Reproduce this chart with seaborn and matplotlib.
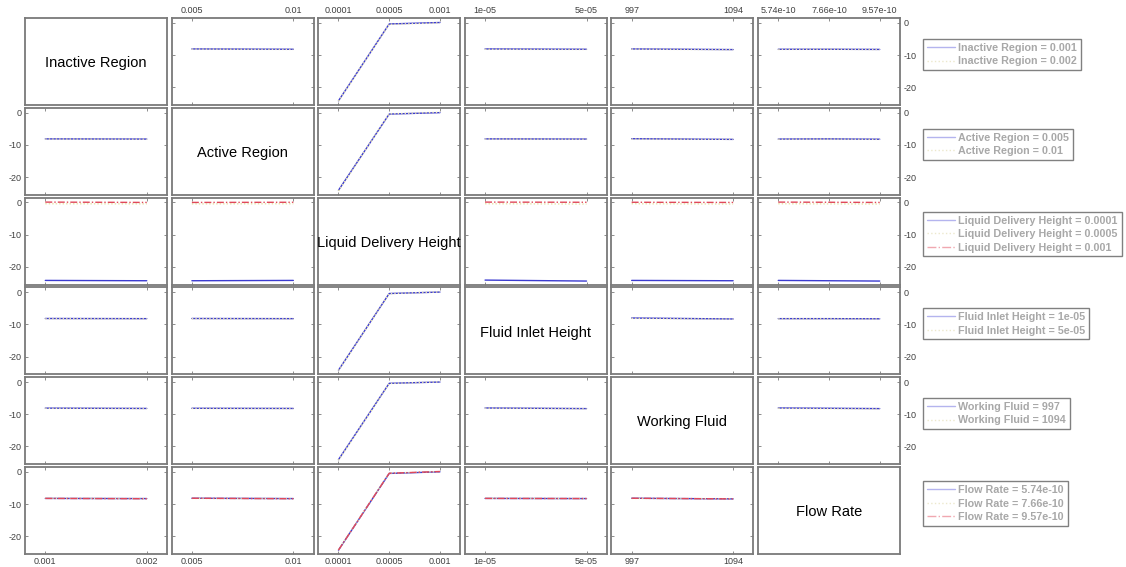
import matplotlib
matplotlib.use("Agg")
import matplotlib.pyplot as plt
from matplotlib.lines import Line2D
import numpy as np
import pandas as pd
import seaborn as sns

sns.set_theme(style="white")
plt.rcParams["font.family"] = ["Liberation Sans", "DejaVu Sans"]
plt.rcParams["axes.unicode_minus"] = False

# Factors and their levels
factors = ["Inactive Region", "Active Region", "Liquid Delivery Height",
           "Fluid Inlet Height", "Working Fluid", "Flow Rate"]
inactive_levels = ["0.001", "0.002"]
active_levels = ["0.005", "0.01"]
ldh_levels = ["0.0001", "0.0005", "0.001"]
inlet_levels = ["1e-05", "5e-05"]
fluid_levels = ["997", "1094"]
flow_levels = ["5.74e-10", "7.66e-10", "9.57e-10"]
levels = [inactive_levels, active_levels, ldh_levels, inlet_levels, fluid_levels, flow_levels]

# Mean response: one list per level of the row factor, across levels of the column factor
inactive_means = {
    "Active Region": [[-8.10, -8.20], [-8.15, -8.25]],
    "Liquid Delivery Height": [[-24.2, -0.35, 0.10], [-24.3, -0.45, 0.00]],
    "Fluid Inlet Height": [[-8.10, -8.20], [-8.20, -8.25]],
    "Working Fluid": [[-8.10, -8.30], [-8.15, -8.35]],
    "Flow Rate": [[-8.20, -8.20, -8.25], [-8.25, -8.20, -8.30]],
}
active_means = {
    "Inactive Region": [[-8.15, -8.20], [-8.20, -8.25]],
    "Liquid Delivery Height": [[-24.1, -0.45, 0.00], [-24.3, -0.40, 0.10]],
    "Fluid Inlet Height": [[-8.15, -8.20], [-8.20, -8.25]],
    "Working Fluid": [[-8.10, -8.30], [-8.20, -8.30]],
    "Flow Rate": [[-8.20, -8.15, -8.25], [-8.25, -8.20, -8.30]],
}
ldh_means = {
    "Inactive Region": [[-24.2, -24.3], [-0.40, -0.45], [0.10, 0.00]],
    "Active Region": [[-24.3, -24.2], [-0.45, -0.40], [0.00, 0.05]],
    "Fluid Inlet Height": [[-24.1, -24.4], [-0.40, -0.50], [0.10, 0.05]],
    "Working Fluid": [[-24.2, -24.3], [-0.40, -0.50], [0.05, 0.00]],
    "Flow Rate": [[-24.2, -24.3, -24.4], [-0.40, -0.45, -0.50], [0.10, 0.05, 0.00]],
}
inlet_means = {
    "Inactive Region": [[-8.15, -8.20], [-8.20, -8.25]],
    "Active Region": [[-8.15, -8.20], [-8.20, -8.25]],
    "Liquid Delivery Height": [[-24.2, -0.40, 0.05], [-24.3, -0.45, 0.10]],
    "Working Fluid": [[-8.00, -8.30], [-8.10, -8.35]],
    "Flow Rate": [[-8.20, -8.20, -8.25], [-8.25, -8.25, -8.30]],
}
fluid_means = {
    "Inactive Region": [[-8.10, -8.20], [-8.15, -8.25]],
    "Active Region": [[-8.15, -8.20], [-8.20, -8.25]],
    "Liquid Delivery Height": [[-24.1, -0.40, 0.00], [-24.3, -0.45, 0.05]],
    "Fluid Inlet Height": [[-8.05, -8.25], [-8.10, -8.30]],
    "Flow Rate": [[-8.05, -8.15, -8.25], [-8.15, -8.25, -8.35]],
}
flow_means = {
    "Inactive Region": [[-8.25, -8.30], [-8.20, -8.30], [-8.25, -8.35]],
    "Active Region": [[-8.20, -8.30], [-8.25, -8.30], [-8.20, -8.35]],
    "Liquid Delivery Height": [[-24.3, -0.50, 0.00], [-24.2, -0.40, 0.05], [-24.3, -0.45, 0.10]],
    "Fluid Inlet Height": [[-8.25, -8.30], [-8.20, -8.30], [-8.25, -8.30]],
    "Working Fluid": [[-8.20, -8.40], [-8.25, -8.35], [-8.20, -8.40]],
}
row_means = [inactive_means, active_means, ldh_means, inlet_means, fluid_means, flow_means]

line_colors = ["#3b3bd0", "#e8e2a8", "#e0485a"]
legend_colors = ["#b4b4ee", "#ece8cc", "#f0a8b0"]
line_dashes = ["", (1, 1.5), (5, 1.5, 1, 1.5)]
mpl_styles = ["-", ":", "-."]

spine_color = "#7a7a7a"
tick_color = "#404040"

fig = plt.figure(figsize=(11.26, 5.67), dpi=100)
gs = fig.add_gridspec(6, 6, left=25 / 1126, right=900 / 1126,
                      top=1 - 18 / 567, bottom=1 - 554 / 567,
                      wspace=0.032, hspace=0.032)

n = len(factors)
for r in range(n):
    for c in range(n):
        ax = fig.add_subplot(gs[r, c])
        for sp in ax.spines.values():
            sp.set_color(spine_color)
            sp.set_linewidth(1.3)
        nx = len(levels[c])
        pad = 0.2 * (nx - 1)
        ax.set_xlim(1 - pad, nx + pad)
        ax.set_ylim(-25.5, 1.5)

        if r == c:
            ax.set_xticks([])
            ax.set_yticks([])
            ax.text(0.5, 0.48, factors[r], transform=ax.transAxes,
                    ha="center", va="center", fontsize=10.5, color="black")
        else:
            series = row_means[r][factors[c]]
            recs = []
            for li, vals in enumerate(series):
                for xi, v in enumerate(vals):
                    recs.append({"pos": xi + 1, "value": v, "level": levels[r][li]})
            df = pd.DataFrame(recs)
            nl = len(levels[r])
            sns.lineplot(data=df, x="pos", y="value", hue="level", style="level",
                         hue_order=levels[r], style_order=levels[r],
                         palette=line_colors[:nl], dashes=line_dashes[:nl],
                         estimator=None, sort=False, linewidth=1.0,
                         legend=False, ax=ax)
            ax.set_xlabel("")
            ax.set_ylabel("")
            ax.set_xticks(np.arange(1, nx + 1))
            ax.set_yticks([-20, -10, 0])
            ax.tick_params(direction="in", length=2, width=0.6, colors=spine_color,
                           top=True, right=True, bottom=True, left=True,
                           labelbottom=False, labeltop=False,
                           labelleft=False, labelright=False,
                           labelsize=6.5, labelcolor=tick_color, pad=2.5)
            ax.set_xticklabels(levels[c])
            ax.set_yticklabels(["-20", "-10", "0"])
            if r == 0:
                ax.tick_params(labeltop=True)
            if r == n - 1:
                ax.tick_params(labelbottom=True)
            if c == 0:
                ax.tick_params(labelleft=True)
            if c == n - 1:
                ax.tick_params(labelright=True)

        if c == n - 1:
            nl = len(levels[r])
            handles = [Line2D([0], [0], color=legend_colors[i], linestyle=mpl_styles[i],
                              linewidth=1.0) for i in range(nl)]
            labels = [f"{factors[r]} = {lv}" for lv in levels[r]]
            leg = ax.legend(handles, labels, loc="center left",
                            bbox_to_anchor=(1.165, 0.58), frameon=True,
                            fancybox=False, framealpha=1, borderpad=0.35,
                            handlelength=2.6, handletextpad=0.3,
                            labelspacing=0.32, borderaxespad=0,
                            prop={"size": 7.75, "weight": "bold"})
            leg.get_frame().set_edgecolor("#808080")
            leg.get_frame().set_linewidth(1.0)
            for t in leg.get_texts():
                t.set_color("#a8a8a8")

fig.savefig("out.png", dpi=100, facecolor="white")
